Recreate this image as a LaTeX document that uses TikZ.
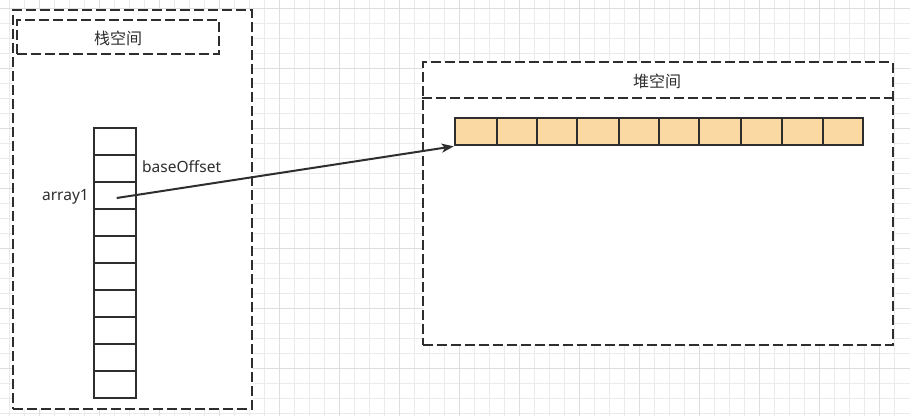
\documentclass[tikz,border=0pt]{standalone}
\usepackage{fontspec}
\setmainfont{Noto Sans}
\newfontfamily\cjk{Noto Sans CJK SC}
\usetikzlibrary{arrows.meta}
\definecolor{ink}{HTML}{2E2E2E}
\definecolor{gridminor}{HTML}{EBEBEB}
\definecolor{gridmajor}{HTML}{DEDEDE}
\definecolor{cellfill}{HTML}{FAD9A3}
\begin{document}
\begin{tikzpicture}[x=1pt,y=-1pt,
  box/.style={draw=ink, line width=2pt, dash pattern=on 10pt off 4pt, fill=white, inner sep=0pt},
  stackcell/.style={draw=ink, line width=2pt, fill=white, inner sep=0pt, minimum width=42pt, minimum height=27pt},
  heapcell/.style={draw=ink, line width=2pt, fill=cellfill, inner sep=0pt, minimum height=27pt},
  cjktext/.style={text=ink, font=\cjk\fontsize{16}{18}\selectfont, inner sep=0pt},
  lbl/.style={text=ink, font=\fontsize{15.5}{18}\selectfont, inner sep=0pt},
  minorline/.style={draw=gridminor, line width=1pt},
  majorline/.style={draw=gridmajor, line width=1pt},
  link/.style={draw=ink, line width=2pt, -{Stealth[length=12pt,width=9pt,inset=3pt]}}]
\useasboundingbox (0,0) rectangle (910,416);
\fill[white] (0,0) rectangle (910,416);
% grid
\foreach \x in {9.3,24.3,...,909} \draw[minorline] (\x,0) -- (\x,416);
\foreach \y in {8.3,23.3,...,415} \draw[minorline] (0,\y) -- (910,\y);
\foreach \x in {39.3,99.3,...,909} \draw[majorline] (\x,0) -- (\x,416);
\foreach \y in {8.3,68.3,...,415} \draw[majorline] (0,\y) -- (910,\y);
% stack
\node[box, minimum width=239pt, minimum height=399pt] (stack) at (132.5,209.5) {};
\node[box, minimum width=202pt, minimum height=34pt] (stacktitle) at (117.9,37) {};
\node[cjktext] (stacklabel) at (118,38) {栈空间};
\foreach \i in {1,...,10}
  \node[stackcell] (s\i) at (115.3,{141+27*(\i-1)}) {};
% heap
\node[box, minimum width=470pt, minimum height=282.4pt] (heap) at (657.6,203.5) {};
\node[minimum width=470pt, minimum height=35.4pt, inner sep=0pt] (heaptitle) at (657.6,80) {};
\draw[ink, line width=2pt, dash pattern=on 10pt off 4pt] (heaptitle.south west) -- (heaptitle.south east);
\node[cjktext] (heaplabel) at (657,81) {堆空间};
\foreach \i/\c/\w in {1/475.85/42.3, 2/516.85/39.7, 3/556.7/40, 4/598/42.6, 5/639/39.4, 6/679/40.6, 7/720.15/41.7, 8/761.65/41.3, 9/802.8/41, 10/843/39.4}
  \node[heapcell, minimum width=\w pt] (h\i) at (\c,131.8) {};
% labels
\node[lbl, anchor=east] (arraylabel) at (89,197) {array1};
\node[lbl, anchor=west] (offsetlabel) at (142,167) {baseOffset};
% pointer
\coordinate (p0) at ([shift={(1.4,3)}]s3.center);
\draw[link] (p0) -- (h1.south west);
\end{tikzpicture}
\end{document}
